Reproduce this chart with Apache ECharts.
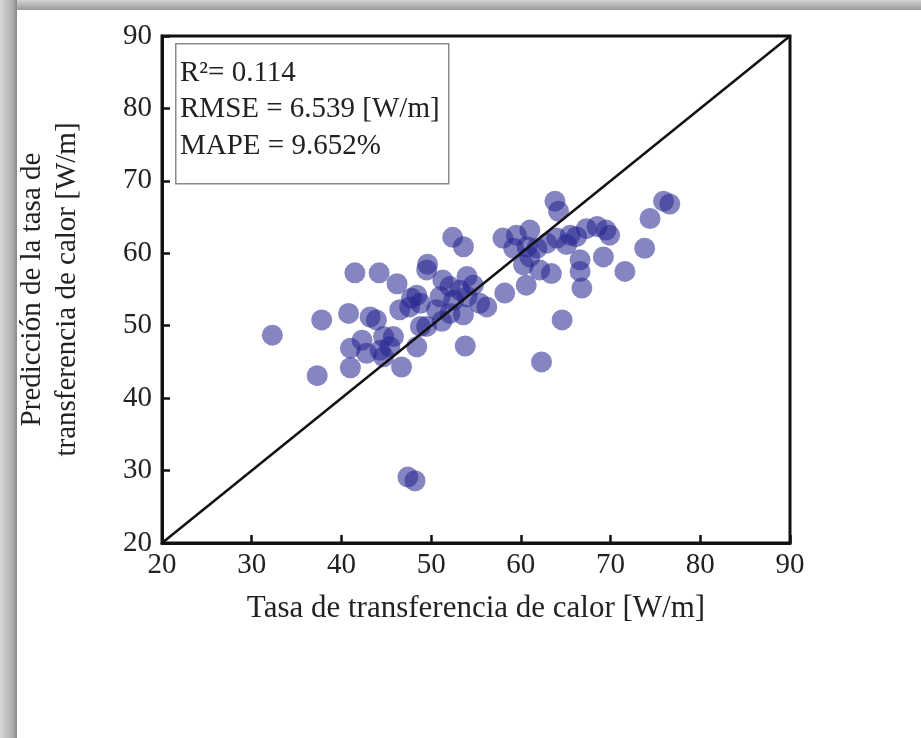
<!DOCTYPE html>
<html>
<head>
<meta charset="utf-8">
<script src="https://cdn.jsdelivr.net/npm/echarts@6/dist/echarts.min.js"></script>
<style>
html,body{margin:0;padding:0;background:#fff;}
#chart{width:921px;height:738px;}
</style>
</head>
<body>
<div id="chart"></div>
<script>
// Measured (x) vs predicted (y) heat transfer rate [W/m]
const measured = [
  32.3,37.3,37.8,41.5,44.2,46.2,40.8,41.0,41.0,42.3,42.8,43.2,43.9,44.3,44.7,45.4,44.7,45.8,46.7,48.4,
  48.8,46.5,47.6,48.8,47.8,48.4,49.5,49.6,47.4,48.2,
  49.5,50.6,51.0,51.3,52.1,53.2,54.0,54.7,52.5,54.0,55.4,56.2,52.1,53.6,51.2,52.4,53.6,53.8,
  58.2,60.6,62.3,64.6,
  58.0,59.5,61.0,59.2,60.7,61.8,61.0,60.3,62.1,63.4,63.8,64.2,64.0,65.1,66.2,67.3,68.5,69.5,69.9,
  66.6,66.6,66.8,69.2,71.6,73.8,74.4,75.9,76.6,62.9,65.5
];
const predicted = [
  48.7,43.1,50.8,57.3,57.3,55.8,51.7,46.9,44.2,48.0,46.2,51.2,50.8,46.6,48.5,47.1,45.7,48.5,44.3,47.1,
  49.9,52.2,52.6,53.1,53.8,54.2,57.7,58.5,29.1,28.6,
  49.9,52.2,54.0,56.3,55.4,54.9,56.8,55.6,53.5,54.0,53.1,52.6,51.7,51.5,50.6,62.2,60.9,47.2,
  54.5,55.6,45.0,50.8,
  62.1,62.5,63.2,60.7,60.9,60.7,59.5,58.4,57.7,57.2,67.2,65.8,62.1,61.2,62.3,63.4,63.7,63.2,62.5,
  59.1,57.5,55.2,59.5,57.5,60.7,64.8,67.2,66.8,61.4,62.5
];
const identityLine = [20, 90];
const xTicks = [20,30,40,50,60,70,80,90];
const yTicks = [20,30,40,50,60,70,80,90];
const statsLines = ['R\u00B2= 0.114', 'RMSE = 6.539 [W/m]', 'MAPE = 9.652%'];
const xTitle = 'Tasa de transferencia de calor [W/m]';
const yTitle = 'Predicción de la tasa de\ntransferencia de calor [W/m]';

const points = measured.map((v, i) => [v, predicted[i]]);
const FONT = '"Liberation Serif","Times New Roman",serif';
const TXT = '#222';

const chart = echarts.init(document.getElementById('chart'), null, {renderer: 'canvas'});
chart.setOption({
  animation: false,
  backgroundColor: '#fff',
  grid: {left: 162, right: 131, top: 36, bottom: 195, show: true, borderColor: '#111', borderWidth: 3},
  xAxis: {
    type: 'value', min: xTicks[0], max: xTicks[xTicks.length - 1], interval: 10,
    name: xTitle, nameLocation: 'middle', nameGap: 50,
    nameTextStyle: {fontFamily: FONT, fontSize: 31, color: TXT},
    axisLine: {show: true, onZero: false, lineStyle: {color: '#111', width: 3}},
    axisTick: {show: true, inside: true, length: 8, lineStyle: {color: '#111', width: 2.5}},
    axisLabel: {fontFamily: FONT, fontSize: 29, color: TXT, margin: 8},
    splitLine: {show: false}
  },
  yAxis: {
    type: 'value', min: yTicks[0], max: yTicks[yTicks.length - 1], interval: 10,
    name: yTitle, nameLocation: 'middle', nameGap: 77, nameRotate: 90,
    nameTextStyle: {fontFamily: FONT, fontSize: 29, color: TXT, lineHeight: 35},
    axisLine: {show: true, onZero: false, lineStyle: {color: '#111', width: 3}},
    axisTick: {show: true, inside: true, length: 8, lineStyle: {color: '#111', width: 2.5}},
    axisLabel: {fontFamily: FONT, fontSize: 29, color: TXT, margin: 10},
    splitLine: {show: false}
  },
  series: [
    {
      type: 'line', data: identityLine.map(v => [v, v]), symbol: 'none',
      lineStyle: {color: '#111', width: 2.5}, z: 3, silent: true
    },
    {
      type: 'scatter', data: points, symbolSize: 21,
      itemStyle: {color: 'rgba(38,38,145,0.7)'}, z: 2
    }
  ],
  graphic: [
    {type: 'rect', left: 0, top: 0, shape: {width: 921, height: 10},
     style: {fill: new echarts.graphic.LinearGradient(0,0,0,1,[{offset:0,color:'#d4d4d4'},{offset:1,color:'#9a9a9a'}])}},
    {type: 'rect', left: 0, top: 0, shape: {width: 17, height: 738},
     style: {fill: new echarts.graphic.LinearGradient(0,0,1,0,[{offset:0,color:'#d8d8d8'},{offset:0.7,color:'#b0b0b0'},{offset:1,color:'#8a8a8a'}])}},
    {type: 'rect', left: 175, top: 43, shape: {width: 273, height: 140},
     style: {fill: '#fff', stroke: '#8a8a8a', lineWidth: 1.5}, z: 10},
    {type: 'text', left: 180, top: 55, z: 11,
     style: {text: statsLines.join('\n'), fontFamily: FONT, fontSize: 29, lineHeight: 36.5, fill: TXT}}
  ]
});
</script>
</body>
</html>
